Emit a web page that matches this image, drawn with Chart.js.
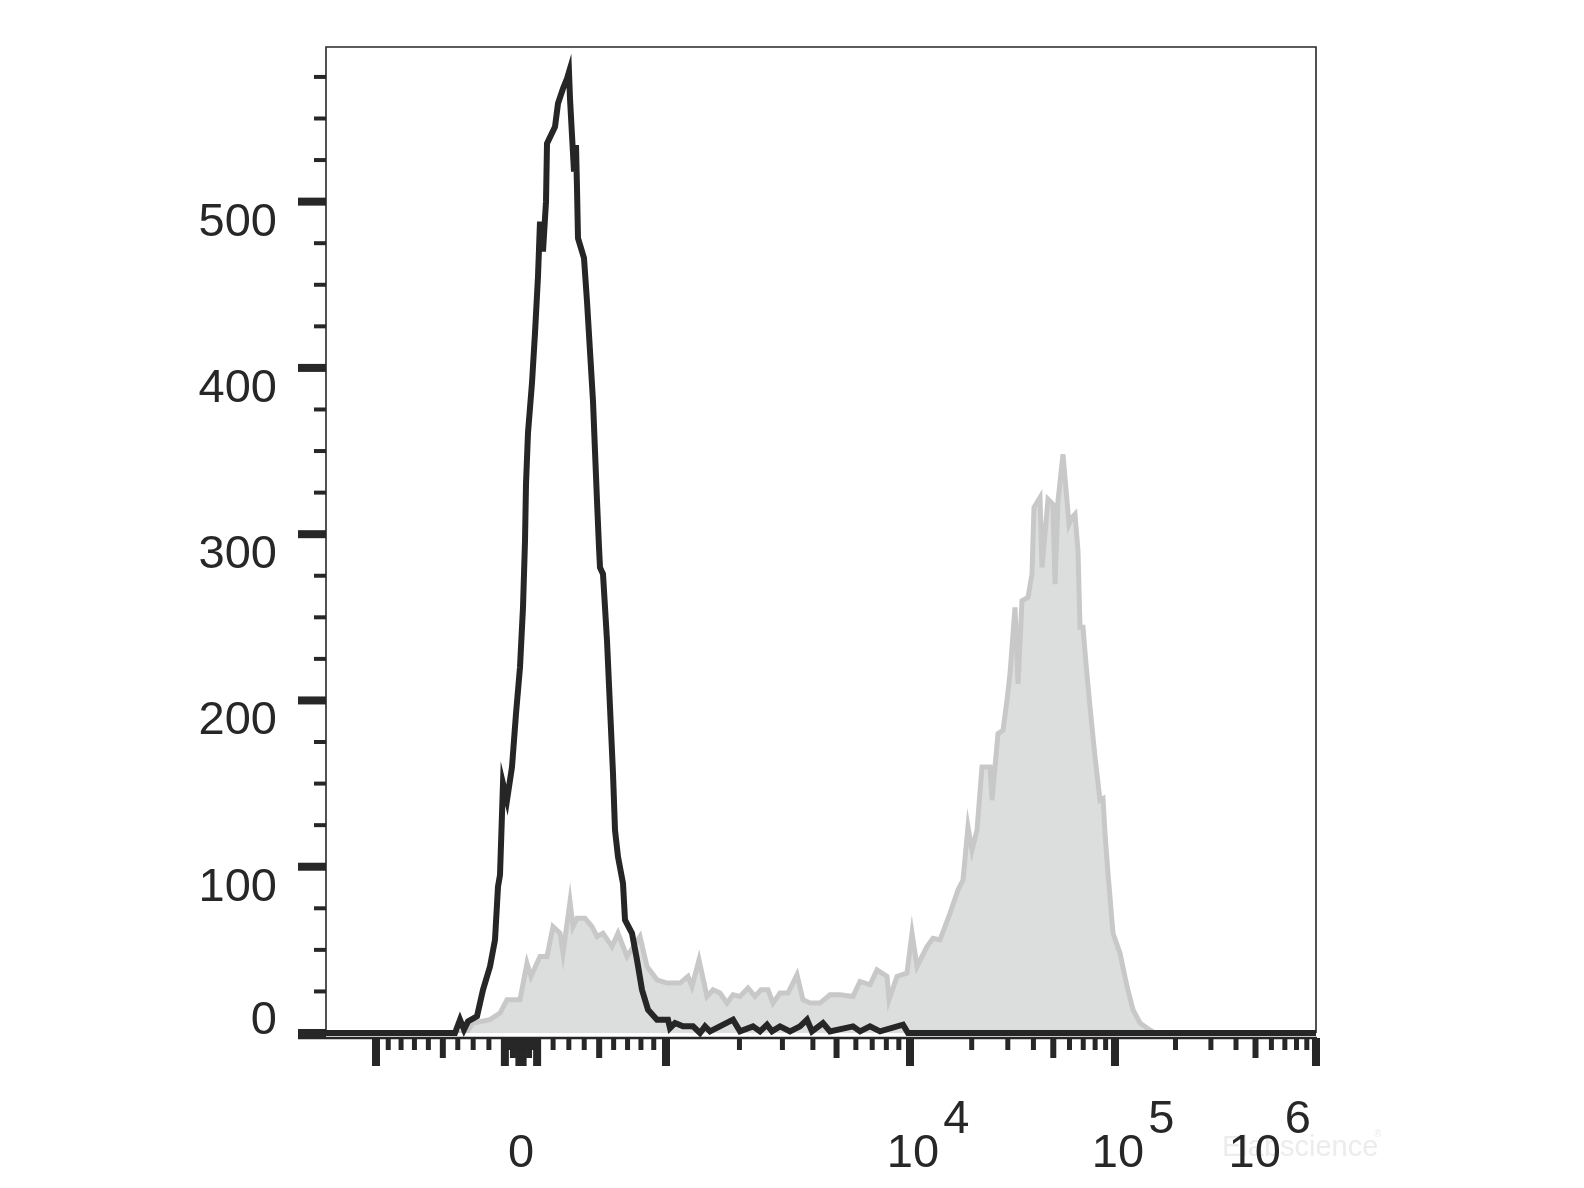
<!DOCTYPE html>
<html>
<head>
<meta charset="utf-8">
<script src="https://cdn.jsdelivr.net/npm/chart.js@4.4.1/dist/chart.umd.min.js"></script>
<style>
  html, body { margin: 0; padding: 0; background: #fff; }
  canvas { display: block; }
</style>
</head>
<body>
<canvas id="histo" width="1584" height="1188"></canvas>
<script>
// histogram bins: display channel (0 = left end of the axis) and event count
const blackChannels = [0, 129, 134, 138, 142, 151, 157, 164, 169, 172, 174, 177, 181, 186, 190, 194, 197, 199, 200, 202,
  206, 209, 212, 214, 217, 220, 221, 225, 229, 232, 237, 241, 243, 244, 246, 248, 250, 251, 252, 258,
  261, 264, 267, 269, 271, 273, 274, 277, 281, 284, 287, 289, 292, 297, 299, 306, 311, 316, 322, 331,
  337, 342, 344, 349, 357, 367, 374, 379, 384, 407, 414, 427, 434, 441, 446, 454, 464, 474, 481, 486,
  497, 504, 527, 534, 544, 554, 577, 582, 990];
const blackCounts = [0, 0, 8, 2, 7, 10, 26, 40, 56, 88, 95, 150, 140, 160, 192, 220, 256, 296, 330, 361,
  391, 421, 455, 488, 470, 500, 535, 540, 545, 559, 568, 574, 578, 562, 540, 518, 534, 508, 478, 466,
  440, 410, 380, 350, 320, 292, 280, 276, 236, 196, 156, 122, 106, 90, 68, 60, 44, 26, 14, 8,
  8, 8, 3, 6, 4, 4, 0, 4, 1, 8, 1, 4, 1, 5, 1, 4, 1, 4, 8, 1,
  6, 1, 4, 1, 4, 1, 5, 0, 0];

const grayChannels = [0, 140, 147, 164, 174, 181, 194, 201, 205, 214, 221, 227, 234, 237, 244, 247, 251, 259, 266, 271,
  277, 286, 292, 301, 314, 321, 331, 341, 347, 354, 362, 366, 373, 381, 387, 394, 401, 407, 414, 422,
  429, 435, 442, 447, 454, 462, 471, 477, 484, 494, 504, 514, 527, 534, 544, 551, 561, 563, 571, 581,
  586, 591, 601, 607, 614, 624, 632, 637, 642, 646, 651, 656, 664, 666, 672, 677, 681, 684, 689, 692,
  696, 702, 706, 708, 714, 716, 722, 727, 729, 732, 737, 741, 743, 746, 749, 752, 754, 757, 760, 764,
  769, 774, 777, 779, 782, 787, 794, 801, 807, 814, 821, 829, 990];
const grayCounts = [0, 0, 6, 8, 12, 20, 20, 42, 34, 46, 46, 64, 60, 48, 79, 64, 69, 69, 64, 58,
  60, 52, 60, 46, 58, 40, 32, 30, 30, 30, 34, 28, 44, 22, 26, 24, 18, 23, 22, 27,
  22, 26, 26, 18, 24, 24, 35, 20, 18, 18, 23, 23, 22, 31, 29, 38, 34, 20, 34, 36,
  60, 40, 52, 57, 56, 72, 86, 92, 124, 110, 122, 160, 160, 140, 180, 182, 200, 216, 256, 210,
  260, 262, 276, 316, 322, 280, 321, 318, 270, 320, 348, 320, 306, 310, 312, 290, 244, 244, 222, 196,
  166, 140, 141, 120, 96, 60, 48, 28, 14, 6, 3, 0, 0];

const yLabelValues = [0, 100, 200, 300, 400, 500];
const xLabelValues = [0, 1e4, 1e5, 1e6];
const yMax = 593;

// biexponential display: channel of zero and channel distance of each decade from zero
const zeroChannel = 195;
const decadeOffsets = [145, 389, 594, 795]; // 10^3 .. 10^6
function channelOf(v) {
  const a = Math.abs(v);
  let d;
  if (a <= 1000) {
    d = 145 * Math.asinh(a / 1111) / Math.asinh(0.9);
  } else {
    const lg = Math.log10(a);
    const k = Math.min(Math.floor(lg) - 3, 2);
    d = decadeOffsets[k] + (lg - 3 - k) * (decadeOffsets[k + 1] - decadeOffsets[k]);
  }
  return zeroChannel + Math.sign(v) * d;
}

// tick values along the fluorescence axis (kind: 0 minor, 1 medium, 2 major)
const xTicks = [{ v: 0, kind: 1 }, { v: -1000, kind: 2 }, { v: 1e6, kind: 2 }];
for (let k = 1; k <= 5; k++) {
  for (let m = 1; m <= 9; m++) {
    const kind = m === 1 ? 2 : (m === 5 ? 1 : 0);
    xTicks.push({ v: m * Math.pow(10, k), kind });
    if (k <= 2) xTicks.push({ v: -m * Math.pow(10, k), kind });
  }
}

const ink = '#272727';
const font = '"Liberation Sans", Arial, sans-serif';

const axesPlugin = {
  id: 'flowAxes',
  beforeDatasetsDraw(chart) {
    const { ctx, chartArea: a } = chart;
    ctx.save();
    ctx.strokeStyle = ink;
    ctx.lineWidth = 1.6;
    ctx.beginPath();
    ctx.moveTo(a.left, a.bottom);
    ctx.lineTo(a.left, a.top);
    ctx.lineTo(a.right, a.top);
    ctx.lineTo(a.right, a.bottom);
    ctx.stroke();
    ctx.restore();
  },
  afterDraw(chart) {
    const { ctx, chartArea: a } = chart;
    const xs = chart.scales.x, ys = chart.scales.y;
    ctx.save();
    ctx.strokeStyle = ink;
    ctx.fillStyle = ink;

    // y ticks every 25
    for (let v = 0; v < yMax; v += 25) {
      const y = ys.getPixelForValue(v);
      const major = v % 100 === 0;
      ctx.lineWidth = major ? 8 : 4;
      ctx.beginPath();
      ctx.moveTo(a.left - (major ? 28 : 12), y);
      ctx.lineTo(a.left, y);
      ctx.stroke();
    }

    // x axis line under the plot, ticks hang from it
    const axisY = a.bottom + 5;
    ctx.lineWidth = 2.5;
    ctx.beginPath();
    ctx.moveTo(a.left - 28, axisY);
    ctx.lineTo(a.right + 1, axisY);
    ctx.stroke();
    const tickLen = [12, 20, 28];
    const tickW = [5, 6, 8];
    xTicks.forEach(t => {
      const x = xs.getPixelForValue(channelOf(t.v));
      ctx.lineWidth = tickW[t.kind];
      ctx.beginPath();
      ctx.moveTo(x, axisY);
      ctx.lineTo(x, axisY + tickLen[t.kind]);
      ctx.stroke();
    });

    // watermark
    ctx.fillStyle = '#ececec';
    ctx.font = '29px ' + font;
    ctx.textAlign = 'left';
    ctx.textBaseline = 'alphabetic';
    ctx.fillText('Elabscience', 1222, 1156);
    ctx.font = '10px ' + font;
    ctx.fillText('\u00ae', 1374, 1137);

    ctx.fillStyle = ink;
    ctx.font = '47px ' + font;

    // y labels
    ctx.textAlign = 'right';
    yLabelValues.forEach(v => {
      const y = ys.getPixelForValue(v);
      ctx.fillText(String(v), a.left - 49, v === 0 ? y + 1 : y + 34);
    });

    // x labels
    const base = a.bottom + 134;
    xLabelValues.forEach(v => {
      const x = xs.getPixelForValue(channelOf(v));
      if (v === 0) {
        ctx.textAlign = 'center';
        ctx.fillText('0', x, base);
        return;
      }
      const exp = String(Math.round(Math.log10(v)));
      const wBase = ctx.measureText('10').width;
      const wExp = ctx.measureText(exp).width;
      let cx = x + 3;
      const overflow = cx + wBase / 2 + 4 + wExp - (a.right - 5);
      if (overflow > 0) cx -= overflow;
      ctx.textAlign = 'center';
      ctx.fillText('10', cx, base);
      ctx.textAlign = 'left';
      ctx.fillText(exp, cx + wBase / 2 + 4, base - 34);
    });
    ctx.restore();
  }
};

const toPoints = (xs, ys) => xs.map((x, i) => ({ x, y: ys[i] }));

new Chart(document.getElementById('histo'), {
  type: 'line',
  data: {
    datasets: [
      {
        label: 'isotype',
        data: toPoints(blackChannels, blackCounts),
        borderColor: '#262626',
        borderWidth: 6,
        fill: false,
        pointRadius: 0,
        tension: 0,
        clip: false,
        order: 0
      },
      {
        label: 'stained',
        data: toPoints(grayChannels, grayCounts),
        borderColor: '#c8c8c8',
        backgroundColor: '#dcdede',
        borderWidth: 5,
        fill: 'origin',
        pointRadius: 0,
        tension: 0,
        order: 1
      }
    ]
  },
  options: {
    responsive: false,
    animation: false,
    devicePixelRatio: 1,
    layout: { padding: { left: 326, right: 268, top: 47, bottom: 155 } },
    plugins: { legend: { display: false }, tooltip: { enabled: false } },
    scales: {
      x: { type: 'linear', min: 0, max: 990, display: false },
      y: { min: 0, max: yMax, display: false }
    }
  },
  plugins: [axesPlugin]
});
</script>
</body>
</html>
